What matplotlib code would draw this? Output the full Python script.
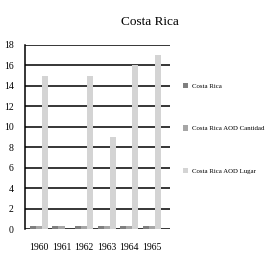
import matplotlib.pyplot as plt
import numpy as np

plt.rcParams['font.family'] = ['Liberation Serif', 'DejaVu Serif']

years = ["1960", "1961", "1962", "1963", "1964", "1965"]
costa_rica = [0.3, 0.3, 0.3, 0.3, 0.3, 0.3]
aod_cantidad = [0.3, 0.3, 0.3, 0.3, 0.3, 0.3]
aod_lugar = [15, 0, 15, 9, 16, 17]

fig = plt.figure(figsize=(2.68, 2.54), dpi=100)
ax = fig.add_axes([0.093, 0.098, 0.541, 0.725])

x = np.arange(len(years))
w = 0.27
b1 = ax.bar(x - w, costa_rica, w, color="#7f7f7f", label="Costa Rica")
b2 = ax.bar(x, aod_cantidad, w, color="#a6a6a6", label="Costa Rica AOD Cantidad")
b3 = ax.bar(x + w, aod_lugar, w, color="#d4d4d4", label="Costa Rica AOD Lugar")

ax.set_ylim(0, 18)
ax.set_yticks(range(0, 19, 2))
ax.set_xlim(-0.62, 5.8)
ax.set_xticks(x)
ax.set_xticklabels(years)
ax.yaxis.grid(True, color="black", linewidth=1.1)
ax.set_axisbelow(True)
for s in ["top", "right", "bottom"]:
    ax.spines[s].set_visible(False)
ax.spines["left"].set_linewidth(1.1)
ax.tick_params(length=0, labelsize=7)
ax.tick_params(axis="y", pad=8)
ax.tick_params(axis="x", pad=10)

fig.text(0.56, 0.915, "Costa Rica", ha="center", va="center", fontsize=9.5)

fig.legend(handles=[b1, b2, b3], loc="upper left", bbox_to_anchor=(0.672, 0.685),
           frameon=False, fontsize=4.9, labelspacing=5.4, handlelength=0.8,
           handleheight=0.8, handletextpad=0.5, borderaxespad=0)

plt.savefig("out.png", dpi=100)
